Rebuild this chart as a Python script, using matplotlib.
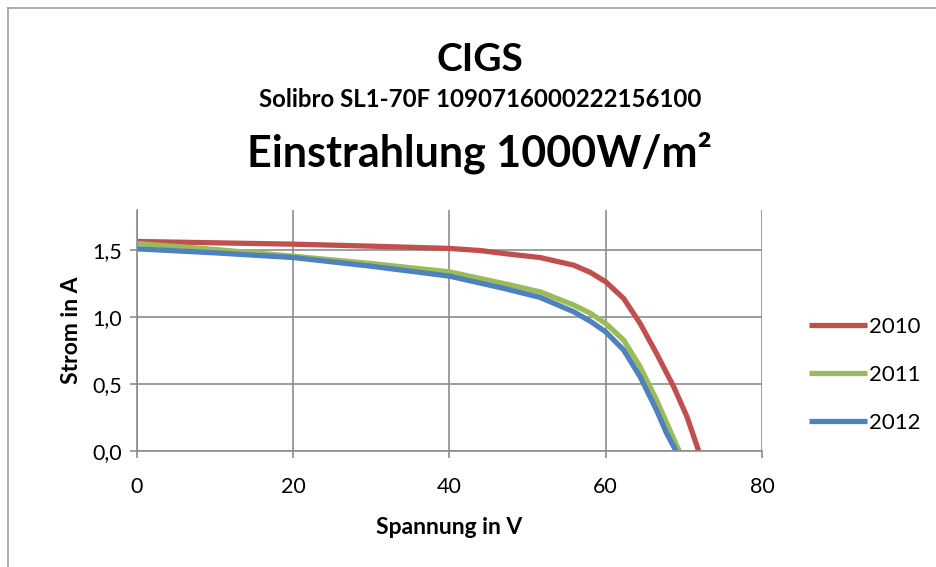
import matplotlib.pyplot as plt
from matplotlib.ticker import FuncFormatter, MultipleLocator
from matplotlib.lines import Line2D

plt.rcParams['font.family'] = ['Lato', 'DejaVu Sans']

# Kennlinien (Spannung in V, Strom in A)
v_2010 = [0, 10, 20, 30, 40, 44, 47, 51.6, 55.9, 58, 60, 62.3, 64.4, 66.5, 68.7, 70.4, 71.9]
i_2010 = [1.565, 1.555, 1.545, 1.53, 1.513, 1.497, 1.475, 1.445, 1.388, 1.335, 1.264, 1.139, 0.953, 0.729, 0.48, 0.256, 0.0]

v_2011 = [0, 10, 20, 30, 40, 47, 51.6, 55.9, 58, 60, 62.3, 64.4, 66.5, 68.2, 69.4]
i_2011 = [1.55, 1.505, 1.455, 1.40, 1.338, 1.25, 1.189, 1.09, 1.03, 0.953, 0.828, 0.629, 0.381, 0.157, 0.0]

v_2012 = [0, 10, 20, 30, 40, 47, 51.6, 55.9, 58, 60, 62.3, 64.4, 66.5, 67.8, 69.0]
i_2012 = [1.51, 1.48, 1.445, 1.38, 1.306, 1.214, 1.147, 1.04, 0.97, 0.89, 0.754, 0.555, 0.306, 0.132, 0.0]

years = ["2010", "2011", "2012"]
colors = ["#C0504D", "#9BBB59", "#4F81BD"]

fig = plt.figure(figsize=(9.37, 5.67), dpi=100)
ax = fig.add_axes([0.1462, 0.2046, 0.6670, 0.4250])

for v, i, lab, c in zip([v_2010, v_2011, v_2012], [i_2010, i_2011, i_2012], years, colors):
    ax.plot(v, i, color=c, lw=3.8, label=lab, solid_capstyle='butt', solid_joinstyle='round')

ax.set_xlim(0, 80)
ax.set_ylim(0, 1.8)
ax.xaxis.set_major_locator(MultipleLocator(20))
ax.yaxis.set_major_locator(MultipleLocator(0.5))
ax.yaxis.set_major_formatter(FuncFormatter(lambda y, p: f"{y:.1f}".replace('.', ',')))
ax.grid(True, color='#8c8c8c', lw=1.2)
ax.set_axisbelow(True)
for s in ['top', 'right']:
    ax.spines[s].set_visible(False)
for s in ['left', 'bottom']:
    ax.spines[s].set_color('#8c8c8c')
    ax.spines[s].set_linewidth(1.2)
ax.tick_params(colors='#8c8c8c', labelcolor='black', labelsize=15.5, length=5, width=1.2)
ax.tick_params(axis='x', pad=14)
ax.tick_params(axis='y', pad=6)

ax.set_xlabel("Spannung in V", fontsize=16.5, fontweight='bold', labelpad=14)
ax.set_ylabel("Strom in A", fontsize=16.5, fontweight='bold', labelpad=7)

fig.text(0.512, 0.875, "CIGS", ha='center', va='baseline', fontsize=28, fontweight='bold')
fig.text(0.512, 0.812, "Solibro SL1-70F 1090716000222156100", ha='center', va='baseline',
         fontsize=17.3, fontweight='bold')
fig.text(0.512, 0.707, "Einstrahlung 1000W/m²", ha='center', va='baseline', fontsize=31,
         fontweight='bold')

fig.legend(loc='center left', bbox_to_anchor=(0.852, 0.339), frameon=False, borderpad=0,
           fontsize=16, handlelength=2.6, handletextpad=0.1, labelspacing=1.25)

# Rahmen (nur links und oben sichtbar)
fig.add_artist(Line2D([0.0085, 0.0085], [0, 1 - 7.5 / 567], transform=fig.transFigure,
                      color='#a0a0a0', lw=1.2))
fig.add_artist(Line2D([0.0085, 1], [1 - 7.5 / 567, 1 - 7.5 / 567], transform=fig.transFigure,
                      color='#a0a0a0', lw=1.2))

fig.savefig("out.png", dpi=100)
